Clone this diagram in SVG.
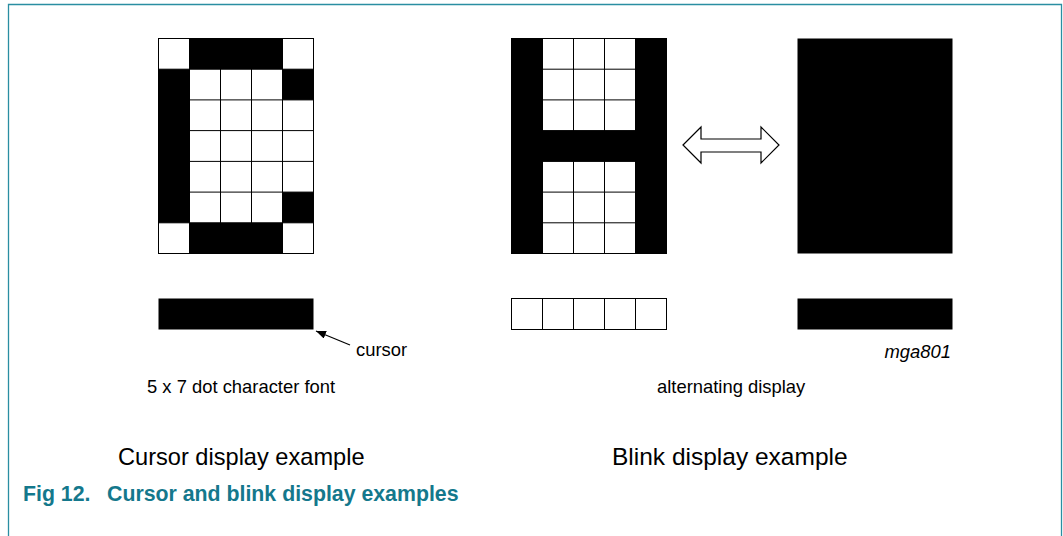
<svg xmlns="http://www.w3.org/2000/svg" width="1063" height="536" viewBox="0 0 1063 536">
<style>
.g{fill:#fff;stroke:#000;stroke-width:1}
.ln{fill:none;stroke:#000;stroke-width:1}
.b{fill:#000}
.t{font-family:"Liberation Sans",Arial,sans-serif;fill:#000}
.cap{font-family:"Liberation Sans",Arial,sans-serif;font-weight:bold;fill:#14788C}
.frame{fill:none;stroke:#2a8ea2;stroke-width:1.3}
</style>
<defs>
<marker id="ah" viewBox="0 0 10 8" refX="10" refY="4" markerWidth="10" markerHeight="8" markerUnits="userSpaceOnUse" orient="auto">
<path d="M0,0 L10,4 L0,8 Z" fill="#000"/>
</marker>
</defs>
<rect width="1063" height="536" fill="#fff"/>
<path class="frame" d="M8.5,536 V4.5 H1061.5 V536"/>

<g id="grid-C">
<rect class="g" x="158.5" y="38.5" width="155" height="215"/>
<path class="ln" d="M189.5,38.5V253.5M220.5,38.5V253.5M251.5,38.5V253.5M282.5,38.5V253.5M158.5,69.2H313.5M158.5,99.9H313.5M158.5,130.6H313.5M158.5,161.4H313.5M158.5,192.1H313.5M158.5,222.8H313.5"/>
<rect class="b" x="189.5" y="38.5" width="93" height="30.7"/>
<rect class="b" x="189.5" y="222.8" width="93" height="30.7"/>
<rect class="b" x="158.5" y="69.2" width="31" height="153.6"/>
<rect class="b" x="282.5" y="69.2" width="31" height="30.7"/>
<rect class="b" x="282.5" y="192.1" width="31" height="30.7"/>
</g>

<g id="grid-H">
<rect class="g" x="511.5" y="38.5" width="155" height="215"/>
<path class="ln" d="M542.5,38.5V253.5M573.5,38.5V253.5M604.5,38.5V253.5M635.5,38.5V253.5M511.5,69.2H666.5M511.5,99.9H666.5M511.5,130.6H666.5M511.5,161.4H666.5M511.5,192.1H666.5M511.5,222.8H666.5"/>
<rect class="b" x="511.5" y="38.5" width="31" height="215"/>
<rect class="b" x="635.5" y="38.5" width="31" height="215"/>
<rect class="b" x="511.5" y="130.6" width="155" height="30.8"/>
</g>

<g id="block-full">
<rect class="b" x="797.5" y="38.5" width="155" height="215"/>
</g>

<g id="cursor-bar">
<rect class="b" x="158.5" y="298.5" width="155" height="31"/>
</g>

<g id="empty-bar">
<rect class="g" x="511.5" y="298.5" width="155" height="31"/>
<path class="ln" d="M542.5,298.5V329.5M573.5,298.5V329.5M604.5,298.5V329.5M635.5,298.5V329.5"/>
</g>

<g id="full-bar">
<rect class="b" x="797.5" y="298.5" width="155" height="31"/>
</g>

<g id="connectors">
<polygon points="683,145 701,127 701,139 761,139 761,127 779,145 761,163 761,152 701,152 701,163" fill="#fff" stroke="#000" stroke-width="1.2" stroke-linejoin="miter"/>
<line x1="350" y1="345" x2="316" y2="331" stroke="#000" stroke-width="1.2" marker-end="url(#ah)"/>
</g>

<g id="labels">
<text class="t" x="356" y="356" font-size="18.4">cursor</text>
<text class="t" x="951" y="358" font-size="18.4" font-style="italic" text-anchor="end">mga801</text>
<text class="t" x="147" y="392.5" font-size="18.4">5 x 7 dot character font</text>
<text class="t" x="657" y="392.5" font-size="18.4">alternating display</text>
<text class="t" x="118" y="465" font-size="23.6">Cursor display example</text>
<text class="t" x="612" y="465" font-size="24.5">Blink display example</text>
<text class="cap" x="23" y="501" font-size="21.3">Fig 12.</text>
<text class="cap" x="107" y="501" font-size="21.3">Cursor and blink display examples</text>
</g>
</svg>
